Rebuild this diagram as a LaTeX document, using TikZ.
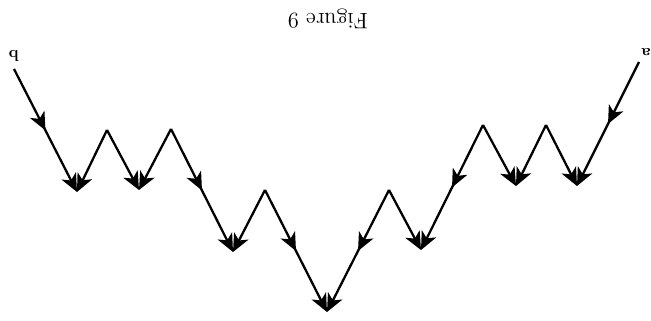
\documentclass[tikz,border=0pt]{standalone}
\usepackage{tikz}
\usetikzlibrary{arrows.meta,decorations.markings}

\begin{document}
\begin{tikzpicture}[
    arr/.style={-{Stealth[length=0.36cm, width=0.32cm, inset=0.1cm]}, line width=1.3pt},
    midarr/.style={arr, postaction={decorate}, decoration={markings,
        mark=at position 0.5 with {\arrow{Stealth[length=0.36cm, width=0.32cm, inset=0.1cm]}}}},
    lbl/.style={font=\bfseries\small, rotate=180, inner sep=1pt},
    ttl/.style={font=\large, scale=1.06, rotate=180, inner sep=1pt},
]
\useasboundingbox (0,0) rectangle (13.02,6.4);

\node[ttl] (title) at (6.56, 6.02) {Figure 9};

% left branch
\coordinate (s1) at (0.28, 5.02);
\coordinate (v1) at (1.54, 2.56);
\coordinate (p1) at (2.14, 3.80);
\coordinate (v2) at (2.78, 2.60);
\coordinate (p2) at (3.42, 3.82);
\coordinate (v3) at (4.66, 1.36);
\coordinate (p3) at (5.30, 2.60);
\coordinate (v4) at (6.54, 0.16);
% right branch
\coordinate (p4) at (7.78, 2.60);
\coordinate (v5) at (8.42, 1.40);
\coordinate (p5) at (9.66, 3.90);
\coordinate (v6) at (10.32, 2.68);
\coordinate (p6) at (10.92, 3.90);
\coordinate (v7) at (11.54, 2.68);
\coordinate (s2) at (12.78, 5.16);

\node[lbl] (lb) at (0.28, 5.28) {b};
\node[lbl] (la) at (12.92, 5.36) {a};

\draw[midarr] (s1) -- (v1);
\draw[arr] (p1) -- (v1);
\draw[arr] (p1) -- (v2);
\draw[arr] (p2) -- (v2);
\draw[midarr] (p2) -- (v3);
\draw[arr] (p3) -- (v3);
\draw[midarr] (p3) -- (v4);
\draw[midarr] (p4) -- (v4);
\draw[arr] (p4) -- (v5);
\draw[midarr] (p5) -- (v5);
\draw[arr] (p5) -- (v6);
\draw[arr] (p6) -- (v6);
\draw[arr] (p6) -- (v7);
\draw[midarr] (s2) -- (v7);

\end{tikzpicture}
\end{document}
